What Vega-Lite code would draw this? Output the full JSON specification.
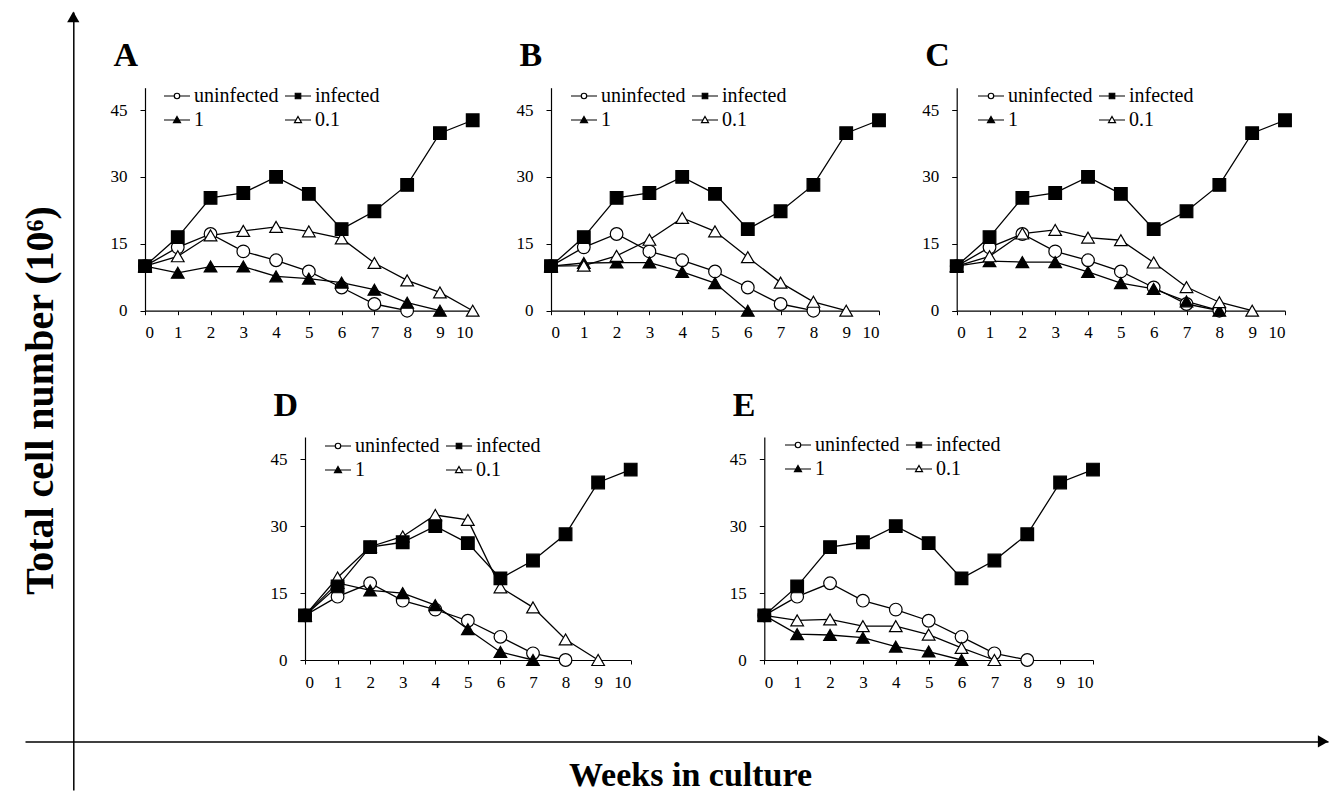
{
  "$schema": "https://vega.github.io/schema/vega-lite/v6.json",
  "width": 1330,
  "height": 800,
  "padding": 0,
  "autosize": {"type": "none"},
  "background": "white",
  "config": {
    "view": {"stroke": null},
    "axis": {"domainColor": "black", "domainWidth": 1.2, "tickColor": "black", "tickWidth": 1, "labelColor": "black", "labelFont": "Liberation Serif", "labelFontSize": 17, "titleColor": "black", "titleFont": "Liberation Serif", "grid": false},
    "legend": {"orient": "none", "direction": "horizontal", "columns": 2, "columnPadding": 3, "rowPadding": 0, "symbolSize": 676, "symbolStrokeWidth": 1.2, "labelFont": "Liberation Serif", "labelFontSize": 20, "labelColor": "black", "labelOffset": 3, "padding": 0}
  },
  "datasets": {
    "cells": [
      {"panel":"A","series":"uninfected","week":0,"count":10},{"panel":"A","series":"uninfected","week":1,"count":14.2},{"panel":"A","series":"uninfected","week":2,"count":17.2},{"panel":"A","series":"uninfected","week":3,"count":13.3},{"panel":"A","series":"uninfected","week":4,"count":11.3},{"panel":"A","series":"uninfected","week":5,"count":8.8},{"panel":"A","series":"uninfected","week":6,"count":5.2},{"panel":"A","series":"uninfected","week":7,"count":1.5},{"panel":"A","series":"uninfected","week":8,"count":0},
      {"panel":"A","series":"1","week":0,"count":10},{"panel":"A","series":"1","week":1,"count":8.5},{"panel":"A","series":"1","week":2,"count":9.9},{"panel":"A","series":"1","week":3,"count":9.9},{"panel":"A","series":"1","week":4,"count":7.7},{"panel":"A","series":"1","week":5,"count":7.2},{"panel":"A","series":"1","week":6,"count":6.3},{"panel":"A","series":"1","week":7,"count":4.7},{"panel":"A","series":"1","week":8,"count":1.8},{"panel":"A","series":"1","week":9,"count":0},
      {"panel":"A","series":"0.1","week":0,"count":10},{"panel":"A","series":"0.1","week":1,"count":12.2},{"panel":"A","series":"0.1","week":2,"count":16.9},{"panel":"A","series":"0.1","week":3,"count":17.9},{"panel":"A","series":"0.1","week":4,"count":18.8},{"panel":"A","series":"0.1","week":5,"count":17.8},{"panel":"A","series":"0.1","week":6,"count":16.2},{"panel":"A","series":"0.1","week":7,"count":10.7},{"panel":"A","series":"0.1","week":8,"count":6.8},{"panel":"A","series":"0.1","week":9,"count":4.1},{"panel":"A","series":"0.1","week":10,"count":0},
      {"panel":"A","series":"infected","week":0,"count":10},{"panel":"A","series":"infected","week":1,"count":16.5},{"panel":"A","series":"infected","week":2,"count":25.3},{"panel":"A","series":"infected","week":3,"count":26.4},{"panel":"A","series":"infected","week":4,"count":30},{"panel":"A","series":"infected","week":5,"count":26.2},{"panel":"A","series":"infected","week":6,"count":18.3},{"panel":"A","series":"infected","week":7,"count":22.3},{"panel":"A","series":"infected","week":8,"count":28.2},{"panel":"A","series":"infected","week":9,"count":39.8},{"panel":"A","series":"infected","week":10,"count":42.7},

      {"panel":"B","series":"uninfected","week":0,"count":10},{"panel":"B","series":"uninfected","week":1,"count":14.2},{"panel":"B","series":"uninfected","week":2,"count":17.2},{"panel":"B","series":"uninfected","week":3,"count":13.3},{"panel":"B","series":"uninfected","week":4,"count":11.3},{"panel":"B","series":"uninfected","week":5,"count":8.8},{"panel":"B","series":"uninfected","week":6,"count":5.2},{"panel":"B","series":"uninfected","week":7,"count":1.5},{"panel":"B","series":"uninfected","week":8,"count":0},
      {"panel":"B","series":"1","week":0,"count":10},{"panel":"B","series":"1","week":1,"count":10.7},{"panel":"B","series":"1","week":2,"count":10.8},{"panel":"B","series":"1","week":3,"count":10.8},{"panel":"B","series":"1","week":4,"count":8.7},{"panel":"B","series":"1","week":5,"count":6.2},{"panel":"B","series":"1","week":6,"count":0},
      {"panel":"B","series":"0.1","week":0,"count":10},{"panel":"B","series":"0.1","week":1,"count":10.1},{"panel":"B","series":"0.1","week":2,"count":12.3},{"panel":"B","series":"0.1","week":3,"count":15.9},{"panel":"B","series":"0.1","week":4,"count":20.8},{"panel":"B","series":"0.1","week":5,"count":17.8},{"panel":"B","series":"0.1","week":6,"count":12},{"panel":"B","series":"0.1","week":7,"count":6.3},{"panel":"B","series":"0.1","week":8,"count":2},{"panel":"B","series":"0.1","week":9,"count":0},
      {"panel":"B","series":"infected","week":0,"count":10},{"panel":"B","series":"infected","week":1,"count":16.5},{"panel":"B","series":"infected","week":2,"count":25.3},{"panel":"B","series":"infected","week":3,"count":26.4},{"panel":"B","series":"infected","week":4,"count":30},{"panel":"B","series":"infected","week":5,"count":26.2},{"panel":"B","series":"infected","week":6,"count":18.3},{"panel":"B","series":"infected","week":7,"count":22.3},{"panel":"B","series":"infected","week":8,"count":28.2},{"panel":"B","series":"infected","week":9,"count":39.8},{"panel":"B","series":"infected","week":10,"count":42.7},

      {"panel":"C","series":"uninfected","week":0,"count":10},{"panel":"C","series":"uninfected","week":1,"count":14.2},{"panel":"C","series":"uninfected","week":2,"count":17.2},{"panel":"C","series":"uninfected","week":3,"count":13.3},{"panel":"C","series":"uninfected","week":4,"count":11.3},{"panel":"C","series":"uninfected","week":5,"count":8.8},{"panel":"C","series":"uninfected","week":6,"count":5.2},{"panel":"C","series":"uninfected","week":7,"count":1.5},{"panel":"C","series":"uninfected","week":8,"count":0},
      {"panel":"C","series":"1","week":0,"count":10},{"panel":"C","series":"1","week":1,"count":11.1},{"panel":"C","series":"1","week":2,"count":10.9},{"panel":"C","series":"1","week":3,"count":10.9},{"panel":"C","series":"1","week":4,"count":8.7},{"panel":"C","series":"1","week":5,"count":6.2},{"panel":"C","series":"1","week":6,"count":4.9},{"panel":"C","series":"1","week":7,"count":2.1},{"panel":"C","series":"1","week":8,"count":0},
      {"panel":"C","series":"0.1","week":0,"count":10},{"panel":"C","series":"0.1","week":1,"count":12.2},{"panel":"C","series":"0.1","week":2,"count":17.3},{"panel":"C","series":"0.1","week":3,"count":18.1},{"panel":"C","series":"0.1","week":4,"count":16.4},{"panel":"C","series":"0.1","week":5,"count":15.8},{"panel":"C","series":"0.1","week":6,"count":10.8},{"panel":"C","series":"0.1","week":7,"count":5.3},{"panel":"C","series":"0.1","week":8,"count":1.9},{"panel":"C","series":"0.1","week":9,"count":0},
      {"panel":"C","series":"infected","week":0,"count":10},{"panel":"C","series":"infected","week":1,"count":16.5},{"panel":"C","series":"infected","week":2,"count":25.3},{"panel":"C","series":"infected","week":3,"count":26.4},{"panel":"C","series":"infected","week":4,"count":30},{"panel":"C","series":"infected","week":5,"count":26.2},{"panel":"C","series":"infected","week":6,"count":18.3},{"panel":"C","series":"infected","week":7,"count":22.3},{"panel":"C","series":"infected","week":8,"count":28.2},{"panel":"C","series":"infected","week":9,"count":39.8},{"panel":"C","series":"infected","week":10,"count":42.7},

      {"panel":"D","series":"uninfected","week":0,"count":10},{"panel":"D","series":"uninfected","week":1,"count":14.2},{"panel":"D","series":"uninfected","week":2,"count":17.2},{"panel":"D","series":"uninfected","week":3,"count":13.3},{"panel":"D","series":"uninfected","week":4,"count":11.3},{"panel":"D","series":"uninfected","week":5,"count":8.8},{"panel":"D","series":"uninfected","week":6,"count":5.2},{"panel":"D","series":"uninfected","week":7,"count":1.5},{"panel":"D","series":"uninfected","week":8,"count":0},
      {"panel":"D","series":"1","week":0,"count":10},{"panel":"D","series":"1","week":1,"count":17.3},{"panel":"D","series":"1","week":2,"count":15.6},{"panel":"D","series":"1","week":3,"count":15},{"panel":"D","series":"1","week":4,"count":12.3},{"panel":"D","series":"1","week":5,"count":6.9},{"panel":"D","series":"1","week":6,"count":1.8},{"panel":"D","series":"1","week":7,"count":0},
      {"panel":"D","series":"0.1","week":0,"count":10},{"panel":"D","series":"0.1","week":1,"count":18.5},{"panel":"D","series":"0.1","week":2,"count":25.4},{"panel":"D","series":"0.1","week":3,"count":27.7},{"panel":"D","series":"0.1","week":4,"count":32.5},{"panel":"D","series":"0.1","week":5,"count":31.4},{"panel":"D","series":"0.1","week":6,"count":16.3},{"panel":"D","series":"0.1","week":7,"count":11.8},{"panel":"D","series":"0.1","week":8,"count":4.6},{"panel":"D","series":"0.1","week":9,"count":0},
      {"panel":"D","series":"infected","week":0,"count":10},{"panel":"D","series":"infected","week":1,"count":16.5},{"panel":"D","series":"infected","week":2,"count":25.3},{"panel":"D","series":"infected","week":3,"count":26.4},{"panel":"D","series":"infected","week":4,"count":30},{"panel":"D","series":"infected","week":5,"count":26.2},{"panel":"D","series":"infected","week":6,"count":18.3},{"panel":"D","series":"infected","week":7,"count":22.3},{"panel":"D","series":"infected","week":8,"count":28.2},{"panel":"D","series":"infected","week":9,"count":39.8},{"panel":"D","series":"infected","week":10,"count":42.7},

      {"panel":"E","series":"uninfected","week":0,"count":10},{"panel":"E","series":"uninfected","week":1,"count":14.2},{"panel":"E","series":"uninfected","week":2,"count":17.2},{"panel":"E","series":"uninfected","week":3,"count":13.3},{"panel":"E","series":"uninfected","week":4,"count":11.3},{"panel":"E","series":"uninfected","week":5,"count":8.8},{"panel":"E","series":"uninfected","week":6,"count":5.2},{"panel":"E","series":"uninfected","week":7,"count":1.5},{"panel":"E","series":"uninfected","week":8,"count":0},
      {"panel":"E","series":"1","week":0,"count":10},{"panel":"E","series":"1","week":1,"count":5.8},{"panel":"E","series":"1","week":2,"count":5.6},{"panel":"E","series":"1","week":3,"count":5},{"panel":"E","series":"1","week":4,"count":3},{"panel":"E","series":"1","week":5,"count":1.9},{"panel":"E","series":"1","week":6,"count":0},
      {"panel":"E","series":"0.1","week":0,"count":10},{"panel":"E","series":"0.1","week":1,"count":8.9},{"panel":"E","series":"0.1","week":2,"count":9.1},{"panel":"E","series":"0.1","week":3,"count":7.6},{"panel":"E","series":"0.1","week":4,"count":7.6},{"panel":"E","series":"0.1","week":5,"count":5.7},{"panel":"E","series":"0.1","week":6,"count":2.7},{"panel":"E","series":"0.1","week":7,"count":0},
      {"panel":"E","series":"infected","week":0,"count":10},{"panel":"E","series":"infected","week":1,"count":16.5},{"panel":"E","series":"infected","week":2,"count":25.3},{"panel":"E","series":"infected","week":3,"count":26.4},{"panel":"E","series":"infected","week":4,"count":30},{"panel":"E","series":"infected","week":5,"count":26.2},{"panel":"E","series":"infected","week":6,"count":18.3},{"panel":"E","series":"infected","week":7,"count":22.3},{"panel":"E","series":"infected","week":8,"count":28.2},{"panel":"E","series":"infected","week":9,"count":39.8},{"panel":"E","series":"infected","week":10,"count":42.7}
    ]
  },
  "layer": [
    {
      "data": {"values": [{"fx": 0, "fy": 14.9, "arrow": "up"}, {"fx": 25.9, "fy": 0, "arrow": "right"}]},
      "mark": {"type": "point", "filled": true, "color": "black", "size": 150, "opacity": 1},
      "encoding": {
        "x": {"field": "fx", "type": "quantitative", "scale": {"domain": [-1, 26], "range": [25, 1328], "nice": false, "zero": false},
              "axis": {"orient": "bottom", "offset": -58.6, "ticks": false, "labels": false, "domainWidth": 1.5, "title": "Weeks in culture", "titleFontSize": 34, "titleFontWeight": "bold", "titleX": 690, "titleY": 43.6, "titleAlign": "center", "titleBaseline": "alphabetic"}},
        "y": {"field": "fy", "type": "quantitative", "scale": {"domain": [-1, 15], "range": [790, 12], "nice": false, "zero": false},
              "axis": {"orient": "left", "offset": -73.3, "ticks": false, "labels": false, "domainWidth": 1.5, "title": "Total cell number (10⁶)", "titleFontSize": 40, "titleFontWeight": "bold", "titleAngle": -90, "titleX": -33, "titleY": 400, "titleAlign": "center", "titleBaseline": "middle"}},
        "shape": {"field": "arrow", "type": "nominal", "scale": {"domain": ["up", "right"], "range": ["triangle-up", "triangle-right"]}, "legend": null}
      }
    },
    {
      "data": {"name": "cells"},
      "transform": [{"filter": "datum.panel === 'A'"}],
      "encoding": {
        "x": {"field": "week", "type": "quantitative", "scale": {"domain": [0, 10], "range": [145, 472.7], "nice": false, "zero": false},
              "axis": {"orient": "bottom", "offset": -489.3, "values": [0,1,2,3,4,5,6,7,8,9,10], "title": null, "tickSize": 4, "labelPadding": 10}},
        "y": {"field": "count", "type": "quantitative", "scale": {"domain": [0, 50], "range": [310.7, 87.7], "nice": false},
              "axis": {"orient": "left", "offset": -145, "values": [0, 15, 30, 45], "tickSize": 5, "labelPadding": 13, "title": "A", "titleAngle": 0, "titleX": -32, "titleY": 65, "titleAlign": "left", "titleBaseline": "alphabetic", "titleFontSize": 34, "titleFontWeight": "bold"}}
      },
      "layer": [
        {"mark": {"type": "line", "color": "black", "strokeWidth": 1.3}, "encoding": {"detail": {"field": "series"}}},
        {"mark": {"type": "point", "size": 160, "stroke": "black", "strokeWidth": 1.2, "opacity": 1},
         "encoding": {
           "shape": {"field": "series", "type": "nominal", "scale": {"domain": ["uninfected", "infected", "1", "0.1"], "range": ["circle", "square", "triangle-up", "triangle-up"]}, "legend": null},
           "fill": {"field": "series", "type": "nominal", "scale": {"domain": ["uninfected", "infected", "1", "0.1"], "range": ["white", "black", "black", "white"]}, "legend": null}
         }},
        {"transform": [{"filter": "false"}],
         "mark": {"type": "point", "stroke": "black", "strokeWidth": 1.2, "opacity": 1},
         "encoding": {
           "shape": {"field": "series", "type": "nominal", "scale": {"domain": ["uninfected", "infected", "1", "0.1"], "range": ["M-1,0H-0.21M0.21,0H1M0.21,0A0.21,0.21,0,1,1,-0.21,0A0.21,0.21,0,1,1,0.21,0Z", "M-1,0H-0.21M0.21,0H1M-0.21,-0.21H0.21V0.21H-0.21Z", "M-1,0H-0.15M0.15,0H1M0,-0.27L0.27,0.2L-0.27,0.2Z", "M-1,0H-0.15M0.15,0H1M0,-0.27L0.27,0.2L-0.27,0.2Z"]},
                     "legend": {"orient": "none", "direction": "horizontal", "legendX": 163, "legendY": 82, "columns": 2, "title": null}},
           "fill": {"field": "series", "type": "nominal", "scale": {"domain": ["uninfected", "infected", "1", "0.1"], "range": ["white", "black", "black", "white"]},
                    "legend": {"orient": "none", "direction": "horizontal", "legendX": 163, "legendY": 82, "columns": 2, "title": null}}
         }}
      ],
      "resolve": {"scale": {"shape": "independent", "fill": "independent"}}
    },
    {
      "data": {"name": "cells"},
      "transform": [{"filter": "datum.panel === 'B'"}],
      "encoding": {
        "x": {"field": "week", "type": "quantitative", "scale": {"domain": [0, 10], "range": [551, 879], "nice": false, "zero": false},
              "axis": {"orient": "bottom", "offset": -489.3, "values": [0,1,2,3,4,5,6,7,8,9,10], "title": null, "tickSize": 4, "labelPadding": 10}},
        "y": {"field": "count", "type": "quantitative", "scale": {"domain": [0, 50], "range": [310.7, 87.7], "nice": false},
              "axis": {"orient": "left", "offset": -551, "values": [0, 15, 30, 45], "tickSize": 5, "labelPadding": 13, "title": "B", "titleAngle": 0, "titleX": -32, "titleY": 65, "titleAlign": "left", "titleBaseline": "alphabetic", "titleFontSize": 34, "titleFontWeight": "bold"}}
      },
      "layer": [
        {"mark": {"type": "line", "color": "black", "strokeWidth": 1.3}, "encoding": {"detail": {"field": "series"}}},
        {"mark": {"type": "point", "size": 160, "stroke": "black", "strokeWidth": 1.2, "opacity": 1},
         "encoding": {
           "shape": {"field": "series", "type": "nominal", "scale": {"domain": ["uninfected", "infected", "1", "0.1"], "range": ["circle", "square", "triangle-up", "triangle-up"]}, "legend": null},
           "fill": {"field": "series", "type": "nominal", "scale": {"domain": ["uninfected", "infected", "1", "0.1"], "range": ["white", "black", "black", "white"]}, "legend": null}
         }},
        {"transform": [{"filter": "false"}],
         "mark": {"type": "point", "stroke": "black", "strokeWidth": 1.2, "opacity": 1},
         "encoding": {
           "shape": {"field": "series", "type": "nominal", "scale": {"domain": ["uninfected", "infected", "1", "0.1"], "range": ["M-1,0H-0.21M0.21,0H1M0.21,0A0.21,0.21,0,1,1,-0.21,0A0.21,0.21,0,1,1,0.21,0Z", "M-1,0H-0.21M0.21,0H1M-0.21,-0.21H0.21V0.21H-0.21Z", "M-1,0H-0.15M0.15,0H1M0,-0.27L0.27,0.2L-0.27,0.2Z", "M-1,0H-0.15M0.15,0H1M0,-0.27L0.27,0.2L-0.27,0.2Z"]},
                     "legend": {"orient": "none", "direction": "horizontal", "legendX": 570, "legendY": 82, "columns": 2, "title": null}},
           "fill": {"field": "series", "type": "nominal", "scale": {"domain": ["uninfected", "infected", "1", "0.1"], "range": ["white", "black", "black", "white"]},
                    "legend": {"orient": "none", "direction": "horizontal", "legendX": 570, "legendY": 82, "columns": 2, "title": null}}
         }}
      ],
      "resolve": {"scale": {"shape": "independent", "fill": "independent"}}
    },
    {
      "data": {"name": "cells"},
      "transform": [{"filter": "datum.panel === 'C'"}],
      "encoding": {
        "x": {"field": "week", "type": "quantitative", "scale": {"domain": [0, 10], "range": [956.7, 1285], "nice": false, "zero": false},
              "axis": {"orient": "bottom", "offset": -489.3, "values": [0,1,2,3,4,5,6,7,8,9,10], "title": null, "tickSize": 4, "labelPadding": 10}},
        "y": {"field": "count", "type": "quantitative", "scale": {"domain": [0, 50], "range": [310.7, 87.7], "nice": false},
              "axis": {"orient": "left", "offset": -956.7, "values": [0, 15, 30, 45], "tickSize": 5, "labelPadding": 13, "title": "C", "titleAngle": 0, "titleX": -32, "titleY": 65, "titleAlign": "left", "titleBaseline": "alphabetic", "titleFontSize": 34, "titleFontWeight": "bold"}}
      },
      "layer": [
        {"mark": {"type": "line", "color": "black", "strokeWidth": 1.3}, "encoding": {"detail": {"field": "series"}}},
        {"mark": {"type": "point", "size": 160, "stroke": "black", "strokeWidth": 1.2, "opacity": 1},
         "encoding": {
           "shape": {"field": "series", "type": "nominal", "scale": {"domain": ["uninfected", "infected", "1", "0.1"], "range": ["circle", "square", "triangle-up", "triangle-up"]}, "legend": null},
           "fill": {"field": "series", "type": "nominal", "scale": {"domain": ["uninfected", "infected", "1", "0.1"], "range": ["white", "black", "black", "white"]}, "legend": null}
         }},
        {"transform": [{"filter": "false"}],
         "mark": {"type": "point", "stroke": "black", "strokeWidth": 1.2, "opacity": 1},
         "encoding": {
           "shape": {"field": "series", "type": "nominal", "scale": {"domain": ["uninfected", "infected", "1", "0.1"], "range": ["M-1,0H-0.21M0.21,0H1M0.21,0A0.21,0.21,0,1,1,-0.21,0A0.21,0.21,0,1,1,0.21,0Z", "M-1,0H-0.21M0.21,0H1M-0.21,-0.21H0.21V0.21H-0.21Z", "M-1,0H-0.15M0.15,0H1M0,-0.27L0.27,0.2L-0.27,0.2Z", "M-1,0H-0.15M0.15,0H1M0,-0.27L0.27,0.2L-0.27,0.2Z"]},
                     "legend": {"orient": "none", "direction": "horizontal", "legendX": 977, "legendY": 82, "columns": 2, "title": null}},
           "fill": {"field": "series", "type": "nominal", "scale": {"domain": ["uninfected", "infected", "1", "0.1"], "range": ["white", "black", "black", "white"]},
                    "legend": {"orient": "none", "direction": "horizontal", "legendX": 977, "legendY": 82, "columns": 2, "title": null}}
         }}
      ],
      "resolve": {"scale": {"shape": "independent", "fill": "independent"}}
    },
    {
      "data": {"name": "cells"},
      "transform": [{"filter": "datum.panel === 'D'"}],
      "encoding": {
        "x": {"field": "week", "type": "quantitative", "scale": {"domain": [0, 10], "range": [305, 630.7], "nice": false, "zero": false},
              "axis": {"orient": "bottom", "offset": -140, "values": [0,1,2,3,4,5,6,7,8,9,10], "title": null, "tickSize": 4, "labelPadding": 10}},
        "y": {"field": "count", "type": "quantitative", "scale": {"domain": [0, 50], "range": [660, 437], "nice": false},
              "axis": {"orient": "left", "offset": -305, "values": [0, 15, 30, 45], "tickSize": 5, "labelPadding": 13, "title": "D", "titleAngle": 0, "titleX": -32, "titleY": 415, "titleAlign": "left", "titleBaseline": "alphabetic", "titleFontSize": 34, "titleFontWeight": "bold"}}
      },
      "layer": [
        {"mark": {"type": "line", "color": "black", "strokeWidth": 1.3}, "encoding": {"detail": {"field": "series"}}},
        {"mark": {"type": "point", "size": 160, "stroke": "black", "strokeWidth": 1.2, "opacity": 1},
         "encoding": {
           "shape": {"field": "series", "type": "nominal", "scale": {"domain": ["uninfected", "infected", "1", "0.1"], "range": ["circle", "square", "triangle-up", "triangle-up"]}, "legend": null},
           "fill": {"field": "series", "type": "nominal", "scale": {"domain": ["uninfected", "infected", "1", "0.1"], "range": ["white", "black", "black", "white"]}, "legend": null}
         }},
        {"transform": [{"filter": "false"}],
         "mark": {"type": "point", "stroke": "black", "strokeWidth": 1.2, "opacity": 1},
         "encoding": {
           "shape": {"field": "series", "type": "nominal", "scale": {"domain": ["uninfected", "infected", "1", "0.1"], "range": ["M-1,0H-0.21M0.21,0H1M0.21,0A0.21,0.21,0,1,1,-0.21,0A0.21,0.21,0,1,1,0.21,0Z", "M-1,0H-0.21M0.21,0H1M-0.21,-0.21H0.21V0.21H-0.21Z", "M-1,0H-0.15M0.15,0H1M0,-0.27L0.27,0.2L-0.27,0.2Z", "M-1,0H-0.15M0.15,0H1M0,-0.27L0.27,0.2L-0.27,0.2Z"]},
                     "legend": {"orient": "none", "direction": "horizontal", "legendX": 324, "legendY": 432, "columns": 2, "title": null}},
           "fill": {"field": "series", "type": "nominal", "scale": {"domain": ["uninfected", "infected", "1", "0.1"], "range": ["white", "black", "black", "white"]},
                    "legend": {"orient": "none", "direction": "horizontal", "legendX": 324, "legendY": 432, "columns": 2, "title": null}}
         }}
      ],
      "resolve": {"scale": {"shape": "independent", "fill": "independent"}}
    },
    {
      "data": {"name": "cells"},
      "transform": [{"filter": "datum.panel === 'E'"}],
      "encoding": {
        "x": {"field": "week", "type": "quantitative", "scale": {"domain": [0, 10], "range": [764.3, 1093], "nice": false, "zero": false},
              "axis": {"orient": "bottom", "offset": -140, "values": [0,1,2,3,4,5,6,7,8,9,10], "title": null, "tickSize": 4, "labelPadding": 10}},
        "y": {"field": "count", "type": "quantitative", "scale": {"domain": [0, 50], "range": [660, 437], "nice": false},
              "axis": {"orient": "left", "offset": -764.3, "values": [0, 15, 30, 45], "tickSize": 5, "labelPadding": 13, "title": "E", "titleAngle": 0, "titleX": -32, "titleY": 415, "titleAlign": "left", "titleBaseline": "alphabetic", "titleFontSize": 34, "titleFontWeight": "bold"}}
      },
      "layer": [
        {"mark": {"type": "line", "color": "black", "strokeWidth": 1.3}, "encoding": {"detail": {"field": "series"}}},
        {"mark": {"type": "point", "size": 160, "stroke": "black", "strokeWidth": 1.2, "opacity": 1},
         "encoding": {
           "shape": {"field": "series", "type": "nominal", "scale": {"domain": ["uninfected", "infected", "1", "0.1"], "range": ["circle", "square", "triangle-up", "triangle-up"]}, "legend": null},
           "fill": {"field": "series", "type": "nominal", "scale": {"domain": ["uninfected", "infected", "1", "0.1"], "range": ["white", "black", "black", "white"]}, "legend": null}
         }},
        {"transform": [{"filter": "false"}],
         "mark": {"type": "point", "stroke": "black", "strokeWidth": 1.2, "opacity": 1},
         "encoding": {
           "shape": {"field": "series", "type": "nominal", "scale": {"domain": ["uninfected", "infected", "1", "0.1"], "range": ["M-1,0H-0.21M0.21,0H1M0.21,0A0.21,0.21,0,1,1,-0.21,0A0.21,0.21,0,1,1,0.21,0Z", "M-1,0H-0.21M0.21,0H1M-0.21,-0.21H0.21V0.21H-0.21Z", "M-1,0H-0.15M0.15,0H1M0,-0.27L0.27,0.2L-0.27,0.2Z", "M-1,0H-0.15M0.15,0H1M0,-0.27L0.27,0.2L-0.27,0.2Z"]},
                     "legend": {"orient": "none", "direction": "horizontal", "legendX": 784, "legendY": 431, "columns": 2, "title": null}},
           "fill": {"field": "series", "type": "nominal", "scale": {"domain": ["uninfected", "infected", "1", "0.1"], "range": ["white", "black", "black", "white"]},
                    "legend": {"orient": "none", "direction": "horizontal", "legendX": 784, "legendY": 431, "columns": 2, "title": null}}
         }}
      ],
      "resolve": {"scale": {"shape": "independent", "fill": "independent"}}
    }
  ],
  "resolve": {
    "scale": {"x": "independent", "y": "independent", "shape": "independent", "fill": "independent"},
    "axis": {"x": "independent", "y": "independent"},
    "legend": {"shape": "independent", "fill": "independent"}
  }
}
